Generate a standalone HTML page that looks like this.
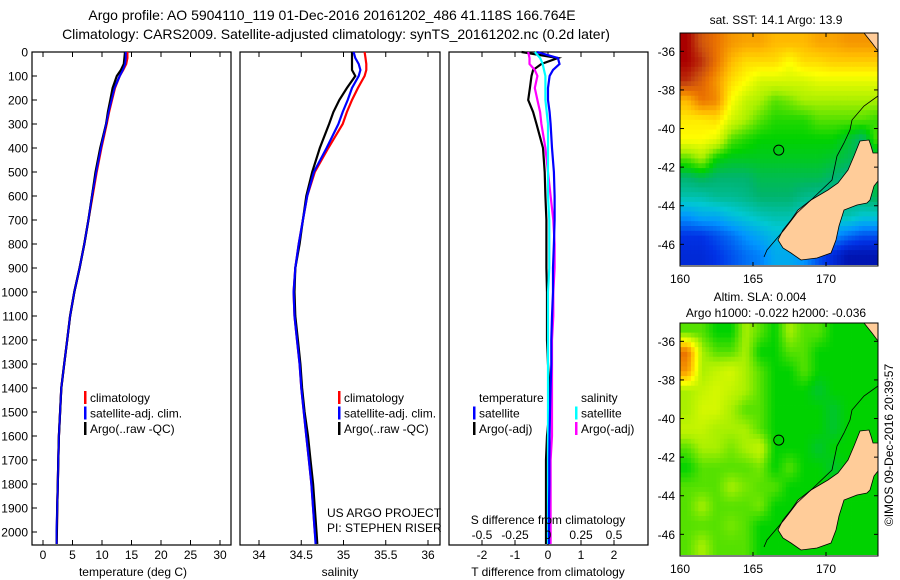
<!DOCTYPE html>
<html><head><meta charset="utf-8"><style>
html,body{margin:0;padding:0;background:#fff;}
svg{display:block;font-family:"Liberation Sans",sans-serif;}
</style></head><body>
<svg id="fig" width="900" height="580" viewBox="0 0 900 580">
<text x="332" y="20" font-size="14" text-anchor="middle">Argo profile: AO 5904110_119 01-Dec-2016 20161202_486 41.118S 166.764E</text>
<text x="336" y="39" font-size="14" text-anchor="middle">Climatology: CARS2009. Satellite-adjusted climatology: synTS_20161202.nc (0.2d later)</text>
<text x="776" y="24" font-size="12" text-anchor="middle">sat. SST: 14.1 Argo: 13.9</text>
<text x="760" y="301" font-size="12" text-anchor="middle">Altim. SLA: 0.004</text>
<text x="776" y="317" font-size="12" text-anchor="middle">Argo h1000: -0.022 h2000: -0.036</text>
<text transform="translate(893,445) rotate(-90)" font-size="12" text-anchor="middle">©IMOS 09-Dec-2016 20:39:57</text>
<g id="g"></g>
</svg>
<script>
const depths=[0,25,50,75,100,150,200,250,300,400,500,600,700,800,900,1000,1100,1200,1300,1400,1500,1600,1700,1800,1900,2000,2050];
const depthTicks=[0,100,200,300,400,500,600,700,800,900,1000,1100,1200,1300,1400,1500,1600,1700,1800,1900,2000];
const tempClim=[14.3,14.3,14.1,13.6,13.0,12.2,11.7,11.2,10.8,9.9,9.1,8.4,7.7,7.0,6.2,5.3,4.6,4.1,3.6,3.1,2.9,2.7,2.6,2.5,2.4,2.35,2.3];
const tempSat=[14.0,14.0,13.9,13.5,13.0,12.1,11.6,11.1,10.7,9.8,9.0,8.3,7.7,7.0,6.2,5.3,4.6,4.1,3.6,3.1,2.9,2.7,2.6,2.5,2.4,2.3,2.3];
const tempArgo=[13.9,13.8,13.7,13.2,12.5,11.8,11.4,11.0,10.7,9.7,8.9,8.3,7.7,7.0,6.2,5.3,4.6,4.1,3.6,3.1,2.9,2.7,2.6,2.5,2.4,2.35,2.3];
const tempTicks=[0,5,10,15,20,25,30];
const salClim=[35.25,35.26,35.27,35.27,35.25,35.17,35.1,35.04,34.99,34.82,34.66,34.57,34.52,34.47,34.43,34.41,34.42,34.45,34.48,34.5,34.53,34.56,34.59,34.62,34.64,34.66,34.68];
const salSat=[35.12,35.14,35.18,35.2,35.18,35.1,35.05,34.99,34.94,34.8,34.65,34.57,34.52,34.47,34.43,34.41,34.42,34.45,34.48,34.5,34.53,34.56,34.59,34.62,34.64,34.66,34.67];
const salArgo=[35.1,35.1,35.1,35.1,35.14,35.04,34.95,34.88,34.83,34.72,34.63,34.56,34.52,34.48,34.43,34.42,34.43,34.46,34.49,34.51,34.54,34.58,34.61,34.64,34.66,34.68,34.69];
const salTicks=[34,34.5,35,35.5,36];
const tDiffSat=[-0.33,0.3,0.35,0.15,0.05,0.0,0.0,0.05,0.08,0.12,0.18,0.2,0.2,0.18,0.15,0.15,0.12,0.1,0.1,0.08,0.06,0.05,0.04,0.04,0.03,0.03,0.03];
const tDiffArgo=[-0.8,0.3,-0.2,-0.45,-0.5,-0.55,-0.6,-0.45,-0.35,-0.15,-0.1,-0.08,-0.05,-0.05,-0.05,-0.03,-0.03,-0.03,0,0.05,0.04,-0.03,-0.06,-0.06,-0.06,-0.06,-0.06];
const sDiffSat=[-0.1,-0.06,-0.04,-0.03,-0.02,-0.02,-0.02,-0.01,0,0,0,0,0.01,0.01,0.01,0,0,0,0,0,0,0,0,0,0,0,0];
const sDiffArgo=[-0.15,-0.14,-0.14,-0.1,-0.08,-0.1,-0.08,-0.06,-0.05,-0.02,0,0.02,0.04,0.05,0.05,0.04,0.04,0.03,0.03,0.03,0.03,0.03,0.02,0.02,0.02,0.02,0.02];
const tDiffTicks=[-2,-1,0,1,2];
const sDiffTicks=[-0.5,-0.25,0,0.25,0.5];
const sstGrid=[
[1.0,0.9,0.85,0.8,0.78,0.78,0.75,0.75,0.75,0.78,0.78,0.8,0.8,0.8],
[1.0,0.95,0.85,0.75,0.7,0.7,0.7,0.65,0.7,0.7,0.72,0.72,0.72,0.72],
[0.95,0.88,0.8,0.7,0.65,0.6,0.6,0.6,0.6,0.62,0.62,0.62,0.62,0.62],
[0.75,0.85,0.82,0.65,0.58,0.55,0.5,0.52,0.55,0.55,0.55,0.55,0.55,0.55],
[0.68,0.68,0.7,0.6,0.55,0.5,0.47,0.47,0.47,0.5,0.5,0.5,0.5,0.48],
[0.65,0.65,0.62,0.5,0.47,0.45,0.45,0.45,0.45,0.45,0.45,0.42,0.38,0.5],
[0.5,0.55,0.45,0.43,0.43,0.43,0.43,0.43,0.43,0.43,0.42,0.4,0.38,0.4],
[0.38,0.4,0.38,0.38,0.38,0.4,0.4,0.4,0.4,0.4,0.38,0.36,0.35,0.42],
[0.33,0.33,0.35,0.35,0.36,0.38,0.38,0.38,0.36,0.35,0.35,0.36,0.38,0.4],
[0.22,0.25,0.25,0.28,0.3,0.32,0.33,0.33,0.3,0.3,0.32,0.33,0.3,0.3],
[0.12,0.12,0.15,0.18,0.22,0.25,0.28,0.28,0.25,0.25,0.22,0.18,0.15,0.15],
[0.1,0.1,0.12,0.15,0.18,0.2,0.25,0.25,0.22,0.15,0.1,0.05,0.05,0.05]];
const slaGrid=[
[0.5,0.5,0.45,0.45,0.55,0.5,0.45,0.55,0.5,0.5,0.45,0.45,0.45,0.45],
[0.85,0.55,0.5,0.5,0.55,0.45,0.45,0.5,0.5,0.45,0.45,0.45,0.45,0.45],
[0.8,0.55,0.58,0.6,0.55,0.5,0.45,0.45,0.5,0.45,0.45,0.45,0.45,0.45],
[0.55,0.58,0.6,0.58,0.55,0.5,0.45,0.45,0.45,0.42,0.45,0.45,0.45,0.45],
[0.55,0.6,0.6,0.55,0.5,0.5,0.45,0.45,0.45,0.45,0.42,0.45,0.45,0.45],
[0.58,0.58,0.55,0.55,0.55,0.5,0.45,0.45,0.45,0.45,0.42,0.45,0.45,0.45],
[0.5,0.55,0.55,0.52,0.55,0.58,0.45,0.45,0.45,0.42,0.45,0.45,0.45,0.45],
[0.45,0.5,0.5,0.5,0.5,0.52,0.45,0.5,0.45,0.45,0.42,0.45,0.45,0.45],
[0.5,0.5,0.5,0.55,0.52,0.5,0.5,0.45,0.45,0.45,0.45,0.45,0.45,0.45],
[0.5,0.55,0.5,0.5,0.5,0.52,0.45,0.45,0.45,0.45,0.45,0.45,0.45,0.45],
[0.5,0.5,0.5,0.52,0.5,0.45,0.45,0.45,0.45,0.45,0.45,0.45,0.45,0.45],
[0.5,0.55,0.5,0.5,0.5,0.45,0.45,0.45,0.45,0.45,0.45,0.45,0.45,0.45]];
const latTicks=[-36,-38,-40,-42,-44,-46];
const lonTicks=[160,165,170];
const argoLon=166.764, argoLat=-41.118;

const NS='http://www.w3.org/2000/svg';
const G=document.getElementById('g');
function mk(tag,attrs,parent){const e=document.createElementNS(NS,tag);for(const k in attrs)e.setAttribute(k,attrs[k]);(parent||G).appendChild(e);return e;}
function txt(x,y,s,size,anchor,parent){const t=mk('text',{x:x,y:y,'font-size':size,'text-anchor':anchor||'start'},parent);t.textContent=s;return t;}
const Y0=52,Y1=545;
function yD(d){return Y0+d*0.24;}
function xT(v){return 43+v*5.9;}
function xS(v){return 259+(v-34)*84.5;}
function xTD(v){return 548+v*33;}
function xSD(v){return 548+v*132;}

function frame(x0,x1,name){
  const r=mk('rect',{x:x0,y:Y0,width:x1-x0,height:Y1-Y0,fill:'none',stroke:'#000','stroke-width':1.2});
  
  
}
function xticks(vals,fx,labels,ylab){
  const g=mk('g',{});
  
  
  vals.forEach((v,i)=>{const x=fx(v);
    mk('line',{x1:x,x2:x,y1:Y0,y2:Y0+5,stroke:'#000'},g);
    mk('line',{x1:x,x2:x,y1:Y1,y2:Y1-5,stroke:'#000'},g);
    if(labels)txt(x,ylab,labels[i],12,'middle',g);
  });
}
function line(xs,fx,color,name,w){
  const pts=depths.map((d,i)=>fx(xs[i]).toFixed(1)+','+yD(d).toFixed(1)).join(' ');
  const p=mk('polyline',{points:pts,fill:'none',stroke:color,'stroke-width':w||2.2,'stroke-linejoin':'miter'});
  
  
}
function legend(items,x,y,name){
  const g=mk('g',{});
  
  
  items.forEach((it,i)=>{const yy=y+i*15.5;
    if(it[0])mk('rect',{x:x,y:yy-6,width:2.5,height:13,fill:it[0]},g);
    txt(x+6,yy+5,it[1],12,'start',g);});
}

frame(32,231,'temperature-panel');
xticks(tempTicks,xT,tempTicks.map(String),559);
const yl=mk('g',{});


depthTicks.forEach(d=>{const y=yD(d);mk('line',{x1:32,x2:37,y1:y,y2:y,stroke:'#000'},yl);txt(28,y+4.5,String(d),12,'end',yl);});
line(tempClim,xT,'#f00','temp-climatology-line');
line(tempSat,xT,'#00f','temp-satellite-line');
line(tempArgo,xT,'#000','temp-argo-line');
line(tempSat,xT,'#00f','temp-satellite-line-top',1.6);
legend([['#f00','climatology'],['#00f','satellite-adj. clim.'],['#000','Argo(..raw -QC)']],84,397,'temp-legend');
txt(133,576,'temperature (deg C)',12,'middle');

frame(240,440,'salinity-panel');
xticks(salTicks,xS,['34','34.5','35','35.5','36'],559);
line(salClim,xS,'#f00','sal-climatology-line');
line(salArgo,xS,'#000','sal-argo-line');
line(salSat,xS,'#00f','sal-satellite-line');
legend([['#f00','climatology'],['#00f','satellite-adj. clim.'],['#000','Argo(..raw -QC)']],338,397,'sal-legend');
txt(327,517,'US ARGO PROJECT',12,'start');
txt(327,532,'PI: STEPHEN RISER',12,'start');
txt(340,576,'salinity',12,'middle');

frame(449,648,'difference-panel');
xticks(tDiffTicks,xTD,['-2','-1','0','1','2'],559);
line(tDiffArgo,xTD,'#000','tdiff-argo-line');
line(sDiffArgo,xSD,'#f0f','sdiff-argo-line');
line(sDiffSat,xSD,'#0ff','sdiff-satellite-line');
line(tDiffSat,xTD,'#00f','tdiff-satellite-line');
legend([[null,'temperature'],['#00f','satellite'],['#000','Argo(-adj)']],473,397,'tdiff-legend');
legend([[null,'salinity'],['#0ff','satellite'],['#f0f','Argo(-adj)']],575,397,'sdiff-legend');
txt(548,524,'S difference from climatology',12,'middle');
const sg=mk('g',{});


sDiffTicks.forEach(v=>txt(xSD(v),539,String(v),12,'middle',sg));
txt(548,576,'T difference from climatology',12,'middle');

function cmap(v){
  const st=[[0,0,0,140],[0.12,0,50,230],[0.22,0,150,255],[0.3,0,200,210],[0.38,0,180,110],[0.45,0,210,0],[0.55,170,240,0],[0.65,255,255,0],[0.75,255,185,0],[0.85,235,115,0],[0.92,200,75,15],[1,170,0,0]];
  if(v<=0)return 'rgb(0,0,140)';
  for(let i=1;i<st.length;i++){if(v<=st[i][0]){const a=st[i-1],b=st[i],t=(v-a[0])/(b[0]-a[0]);
    return 'rgb('+[1,2,3].map(k=>Math.round(a[k]+t*(b[k]-a[k]))).join(',')+')';}}
  return 'rgb(170,0,0)';
}
function sample(grid,r,c){
  const R=grid.length,C=grid[0].length;
  r=Math.max(0,Math.min(R-1,r));c=Math.max(0,Math.min(C-1,c));
  const r0=Math.floor(r),c0=Math.floor(c),r1=Math.min(R-1,r0+1),c1=Math.min(C-1,c0+1),fr=r-r0,fc=c-c0;
  return (grid[r0][c0]*(1-fc)+grid[r0][c1]*fc)*(1-fr)+(grid[r1][c0]*(1-fc)+grid[r1][c1]*fc)*fr;
}
const land='M 180,108 L 189,107 L 191,113 L 193,120 L 198,120 L 198,148 L 194,153 L 190,167 L 187,170 L 177,172 L 164,177 L 159,193 L 156,207 L 151,220 L 137,225 L 121,227 L 111,220 L 103,215 L 98,207 L 103,197 L 111,187 L 118,177 L 131,167 L 148,157 L 158,150 L 168,137 L 174,123 Z';
const shelf='M 198,63 L 184,73 L 172,87 L 170,97 L 164,110 L 157,123 L 152,147 L 131,167 L 117,180 L 104,197 L 87,217 L 84,224';
function map(y0,grid,name,labY){
  const x0=680,W=198,H=233;
  const lx=lon=>(lon-160)*14.6, ly=lat=>(-35.05-lat)*19.3;
  const g=mk('g',{transform:'translate('+x0+','+y0+')'});
  
  
  const cid='clip'+y0;
  const cp=mk('clipPath',{id:cid},g);mk('rect',{x:0,y:0,width:W,height:H},cp);
  const inner=mk('g',{'clip-path':'url(#'+cid+')'},g);
  const step=0.25;
  for(let r=0;r<grid.length;r+=step){for(let c=0;c<grid[0].length;c+=step){
    const v=sample(grid,r-0.5+step/2,c-0.5+step/2);
    const cell=mk('rect',{x:lx(160+c).toFixed(2),y:ly(-35.05-r).toFixed(2),width:(14.6*step+0.4).toFixed(2),height:(19.3*step+0.4).toFixed(2),fill:cmap(v)},inner);
    
    
  }}
  mk('path',{d:'M 184,0 L 198,0 L 198,18 L 192,10 Z',fill:'#fc9',stroke:'#000','stroke-width':0.8},inner);
  const ld=mk('path',{d:land,fill:'#fc9',stroke:'#000','stroke-width':0.8},inner);
  
  
  mk('path',{d:shelf,fill:'none',stroke:'#000','stroke-width':0.8},inner);
  const c=mk('circle',{cx:lx(argoLon),cy:ly(argoLat),r:5,fill:'none',stroke:'#000','stroke-width':1},g);
  
  
  mk('rect',{x:0,y:0,width:W,height:H,fill:'none',stroke:'#000','stroke-width':1},g);
  latTicks.forEach(l=>{const y=ly(l);mk('line',{x1:0,x2:4,y1:y,y2:y,stroke:'#000'},g);mk('line',{x1:W,x2:W-4,y1:y,y2:y,stroke:'#000'},g);txt(-5,y+4.5,String(l),12,'end',g);});
  lonTicks.forEach(l=>{const x=lx(l);mk('line',{x1:x,x2:x,y1:0,y2:4,stroke:'#000'},g);mk('line',{x1:x,x2:x,y1:H,y2:H-4,stroke:'#000'},g);txt(x,labY,String(l),12,'middle',g);});
}
map(33,sstGrid,'sst-map',250);
map(323,slaGrid,'sla-map',250);
</script>
</body></html>
